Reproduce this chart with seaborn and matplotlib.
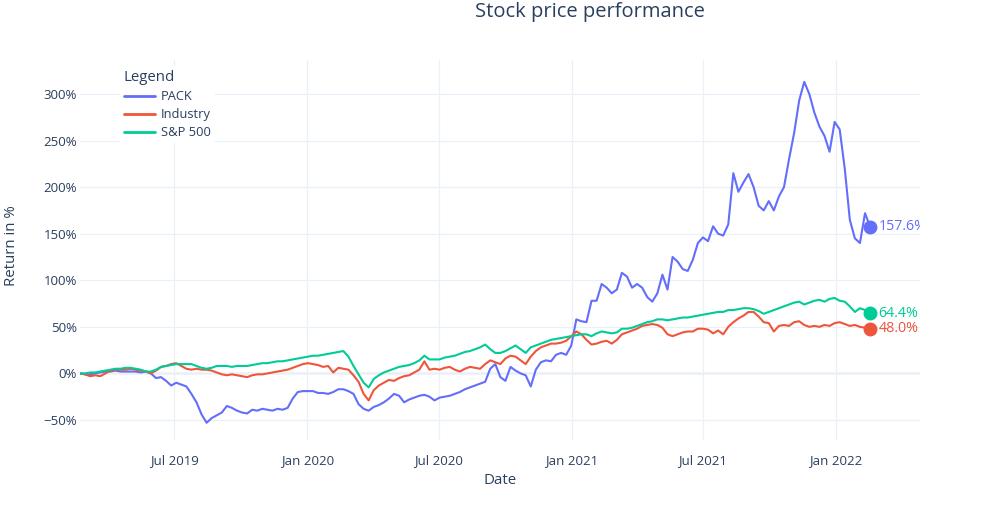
import numpy as np
import pandas as pd
import matplotlib
matplotlib.use("Agg")
import matplotlib.pyplot as plt
import matplotlib.dates as mdates
from matplotlib.ticker import FuncFormatter, MultipleLocator
import seaborn as sns

# ---------------- data (weekly closes, % return since start) ----------------
start_date = "2019-02-21"
n_weeks = 157

pack = [0, -1, -1, 0, 1, 2, 2, 3, 2, 2,
        2, 2, 1, 2, 0, -5, -4, -8, -13, -10,
        -12, -14, -22, -31, -44, -53, -48, -45, -42, -35,
        -37, -40, -42, -43, -39, -40, -38, -39, -40, -38,
        -39, -37, -27, -20, -19, -19, -19, -21, -21, -22,
        -20, -17, -17, -19, -22, -33, -38, -40, -36, -34,
        -31, -27, -22, -24, -31, -28, -26, -24, -23, -25,
        -29, -26, -25, -24, -22, -20, -17, -15, -13, -11,
        -9, 5, 10, -4, -8, 7, 3, 0, -2, -14,
        4, 12, 14, 13, 20, 22, 20, 30, 58, 56,
        55, 78, 78, 96, 92, 86, 90, 108, 104, 92,
        96, 92, 82, 77, 86, 106, 90, 125, 120, 112,
        110, 122, 140, 146, 142, 158, 150, 148, 160, 215,
        195, 205, 214, 200, 180, 175, 185, 175, 190, 200,
        230, 258, 293, 313, 300, 280, 265, 255, 238, 270,
        262, 220, 165, 145, 140, 172, 157.6]

industry = [0, -1, -3, -2, -3, 0, 3, 4, 4, 4,
            5, 4, 3, 2, 0, 3, 7, 8, 10, 11,
            8, 5, 4, 5, 4, 4, 3, 1, -1, -2,
            -1, -2, -3, -4, -2, -1, -1, 0, 1, 2,
            3, 4, 6, 8, 10, 11, 10, 9, 7, 8,
            1, 6, 5, 4, -2, -9, -22, -29, -18, -13,
            -10, -7, -8, -5, -3, -2, 1, 4, 13, 4,
            5, 4, 6, 7, 4, 2, 5, 7, 6, 5,
            10, 14, 12, 10, 16, 19, 18, 14, 10, 18,
            24, 28, 30, 32, 32, 33, 35, 40, 45, 42,
            36, 31, 32, 34, 35, 32, 36, 42, 44, 46,
            48, 51, 52, 53, 52, 49, 42, 40, 42, 44,
            45, 45, 48, 48, 47, 43, 46, 42, 50, 55,
            59, 62, 66, 66, 61, 55, 54, 45, 51, 52,
            51, 55, 56, 52, 50, 51, 50, 52, 51, 54,
            55, 53, 51, 52, 50, 49, 48.0]

sp500 = [0, 0, 1, 1, 2, 3, 4, 5, 5, 6,
         6, 5, 4, 2, 2, 4, 7, 8, 9, 10,
         10, 10, 10, 8, 6, 5, 6, 8, 8, 8,
         7, 8, 8, 8, 9, 10, 11, 11, 12, 13,
         13, 14, 15, 16, 17, 18, 19, 19, 20, 21,
         22, 23, 24, 18, 8, -1, -10, -15, -6, -2,
         1, 3, 5, 7, 8, 9, 11, 14, 19, 15,
         15, 15, 17, 18, 19, 21, 23, 24, 26, 28,
         31, 26, 22, 22, 24, 27, 30, 26, 22, 28,
         30, 32, 34, 36, 37, 38, 39, 40, 41, 42,
         42, 40, 43, 45, 44, 43, 44, 48, 48, 49,
         51, 53, 55, 56, 58, 58, 57, 58, 59, 60,
         60, 61, 62, 63, 64, 65, 66, 66, 68, 68,
         69, 70, 70, 69, 67, 64, 66, 68, 70, 72,
         74, 76, 77, 74, 76, 78, 79, 77, 80, 81,
         78, 77, 72, 66, 70, 68, 64.4]

series_names = ["PACK", "Industry", "S&P 500"]
series_values = [pack, industry, sp500]
colors = ["#636EFA", "#EF553B", "#00CC96"]
y_ticks = [-50, 0, 50, 100, 150, 200, 250, 300]
x_ticks = ["2019-07-01", "2020-01-01", "2020-07-01", "2021-01-01", "2021-07-01", "2022-01-01"]
x_tick_labels = ["Jul 2019", "Jan 2020", "Jul 2020", "Jan 2021", "Jul 2021", "Jan 2022"]

dates = pd.date_range(start_date, periods=n_weeks, freq="7D")
frames = [pd.DataFrame({"Date": dates, "Return": v, "Series": n})
          for n, v in zip(series_names, series_values)]
df = pd.concat(frames, ignore_index=True)

# ---------------- style ----------------
sns.set_theme(style="white")
plt.rcParams["font.family"] = ["Open Sans", "DejaVu Sans"]
text_color = "#2a3f5f"
grid_color = "#EBF0F8"

fig = plt.figure(figsize=(10, 5.25), dpi=100)
ax = fig.add_axes([0.08, 1 - 440 / 525, 0.84, 380 / 525])

palette = dict(zip(series_names, colors))
sns.lineplot(data=df, x="Date", y="Return", hue="Series", palette=palette,
             estimator=None, linewidth=1.5, ax=ax, zorder=3)

# end markers and labels
for n, v, c in zip(series_names, series_values, colors):
    ax.plot(dates[-1], v[-1], "o", color=c, markersize=9, zorder=4)
    ax.annotate(f"{v[-1]:.1f}%", xy=(dates[-1], v[-1]), xytext=(6, 0),
                textcoords="offset points", color=c, fontsize=10.3,
                va="center", ha="left", annotation_clip=False, clip_on=True)

ax.set_xlim(pd.Timestamp("2019-02-21"), pd.Timestamp("2022-04-27"))
ax.set_ylim(-71.5, 336.5)
ax.set_yticks(y_ticks)
ax.yaxis.set_major_formatter(FuncFormatter(lambda v, p: f"{int(v)}%".replace("-", "\u2212")))
ax.set_xticks(pd.to_datetime(x_ticks))
ax.set_xticklabels(x_tick_labels)

ax.grid(True, color=grid_color, linewidth=0.9, zorder=0)
ax.axhline(0, color=grid_color, linewidth=1.8, zorder=1)
ax.set_axisbelow(True)
for s in ax.spines.values():
    s.set_visible(False)
ax.tick_params(axis="both", length=0, labelsize=9.5, colors=text_color)
ax.tick_params(axis="x", pad=10)
ax.tick_params(axis="y", pad=2)
ax.set_xlabel("")
ax.set_ylabel("")

fig.text(0.5, 1 - 480 / 525, "Date", ha="center", va="center", fontsize=10.8, color=text_color)
fig.text(0.012, 1 - 246 / 525, "Return in %", ha="center", va="center", rotation=90,
         fontsize=10.8, color=text_color)
fig.text(0.59, 1 - 12 / 525, "Stock price performance", ha="center", va="center",
         fontsize=14.5, color=text_color)

# legend
handles, labels = ax.get_legend_handles_labels()
leg = ax.legend(handles, labels, title="Legend", loc="upper left",
                bbox_to_anchor=(120 / 1000, 1 - 66 / 525), bbox_transform=fig.transFigure,
                frameon=True, facecolor="white", edgecolor="none", framealpha=1,
                fontsize=9.3, title_fontsize=10.8, handlelength=2.4, handletextpad=0.45,
                labelspacing=0.4, borderpad=0.3, alignment="left", borderaxespad=0)
for t in leg.get_texts():
    t.set_color(text_color)
leg.get_title().set_color(text_color)
for h in leg.legend_handles:
    h.set_linewidth(2)

fig.savefig("out.png", dpi=100)
